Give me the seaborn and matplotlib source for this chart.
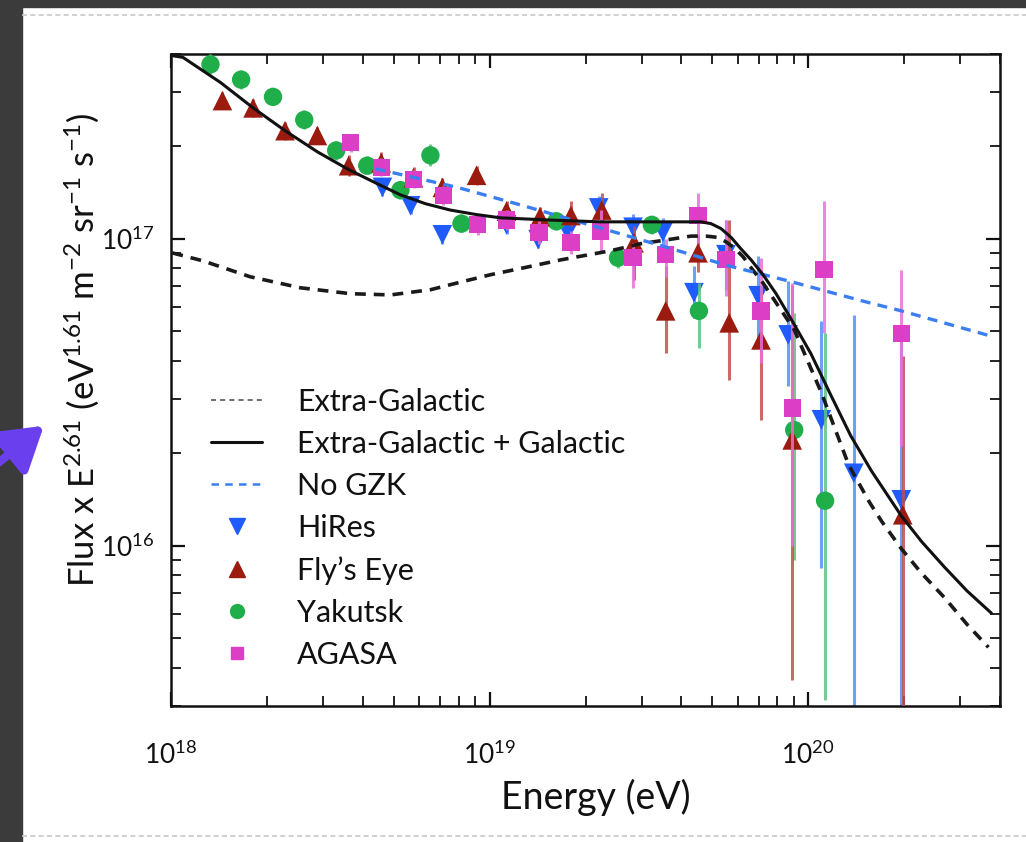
# plot.py
# Espectro de raios cósmicos de altíssima energia (Flux x E^2.61)

import matplotlib
matplotlib.use("Agg")
import matplotlib.pyplot as plt
from matplotlib.lines import Line2D
from matplotlib.patches import Rectangle, FancyArrowPatch
from matplotlib.ticker import LogLocator, LogFormatterMathtext, NullFormatter
import seaborn as sns

# ---- modelos (curvas) ----
eg_gal_E = [1.01e18, 1.09e18, 1.43e18, 1.81e18, 2.28e18, 2.88e18, 3.61e18, 4.39e18,
            5.25e18, 6.30e18, 7.53e18, 9.04e18, 1.08e19, 1.56e19, 2.23e19, 3.21e19,
            4.61e19, 4.95e19, 5.32e19, 5.73e19, 6.15e19, 6.62e19, 7.21e19, 7.93e19,
            8.98e19, 1.02e20, 1.18e20, 1.36e20, 1.58e20, 1.96e20, 2.27e20, 2.68e20,
            3.15e20, 3.76e20]
eg_gal_F = [3.95e17, 3.90e17, 3.23e17, 2.67e17, 2.25e17, 1.92e17, 1.68e17, 1.52e17,
            1.39e17, 1.30e17, 1.24e17, 1.20e17, 1.17e17, 1.15e17, 1.135e17, 1.135e17,
            1.135e17, 1.12e17, 1.08e17, 1.01e17, 9.27e16, 8.53e16, 7.64e16, 6.62e16,
            5.32e16, 4.22e16, 3.08e16, 2.28e16, 1.75e16, 1.25e16, 1.03e16, 8.50e15,
            7.12e15, 6.02e15]

eg_E = [1.01e18, 1.26e18, 1.77e18, 2.55e18, 3.66e18, 4.89e18, 6.52e18, 7.93e18,
        1.01e19, 1.28e19, 1.67e19, 2.40e19, 2.99e19, 3.63e19, 4.29e19, 4.78e19,
        5.21e19, 5.52e19, 5.85e19, 6.25e19, 6.62e19, 7.21e19, 7.82e19, 9.04e19,
        1.10e20, 1.34e20, 1.56e20, 1.70e20, 1.96e20, 2.27e20, 2.68e20, 3.15e20, 3.68e20]
eg_F = [8.99e16, 8.47e16, 7.52e16, 6.92e16, 6.62e16, 6.56e16, 6.82e16, 7.18e16,
        7.64e16, 8.04e16, 8.53e16, 9.14e16, 9.64e16, 9.93e16, 1.02e17, 1.02e17,
        1.01e17, 9.77e16, 9.35e16, 8.73e16, 8.04e16, 7.18e16, 6.32e16, 5.05e16,
        3.15e16, 1.83e16, 1.38e16, 1.20e16, 9.77e15, 8.12e15, 6.76e15, 5.54e15, 4.66e15]

nogzk_E = [4.39e18, 7.93e18, 1.28e19, 2.40e19, 3.63e19, 5.60e19, 8.65e19, 1.47e20,
           1.96e20, 3.71e20]
nogzk_F = [1.69e17, 1.47e17, 1.28e17, 1.06e17, 9.35e16, 8.17e16, 7.29e16, 6.28e16,
           5.82e16, 4.83e16]

# ---- dados experimentais ----
hires_E = [4.61e18, 5.65e18, 7.11e18, 1.13e19, 1.42e19, 1.76e19, 2.20e19, 2.82e19,
           3.50e19, 4.38e19, 5.52e19, 6.96e19, 8.65e19, 1.10e20, 1.39e20, 1.96e20]
hires_F = [1.47e17, 1.28e17, 1.03e17, 1.11e17, 9.93e16, 1.05e17, 1.26e17, 1.09e17,
           1.05e17, 6.67e16, 8.87e16, 6.52e16, 4.86e16, 2.57e16, 1.72e16, 1.41e16]
hires_lo = [1.38e17, 1.20e17, 9.6e16, 1.04e17, 9.3e16, 9.8e16, 1.16e17, 9.9e16,
            9.4e16, 5.52e16, 6.80e16, 4.48e16, 3.31e16, 8.45e15, 2.0e15, 2.0e15]
hires_hi = [1.56e17, 1.36e17, 1.10e17, 1.18e17, 1.06e17, 1.12e17, 1.38e17, 1.20e17,
            1.17e17, 8.17e16, 1.15e17, 8.81e16, 7.29e16, 5.40e16, 5.65e16, 4.93e16]

flyseye_E = [1.45e18, 1.81e18, 2.28e18, 2.88e18, 3.61e18, 4.57e18, 5.77e18, 7.11e18,
             9.10e18, 1.13e19, 1.44e19, 1.80e19, 2.25e19, 2.84e19, 3.57e19, 4.51e19,
             5.65e19, 7.11e19, 8.91e19, 1.98e20]
flyseye_F = [2.82e17, 2.67e17, 2.25e17, 2.17e17, 1.73e17, 1.77e17, 1.58e17, 1.47e17,
             1.61e17, 1.23e17, 1.18e17, 1.19e17, 1.24e17, 9.70e16, 5.82e16, 9.00e16,
             5.32e16, 4.68e16, 2.21e16, 1.26e16]
flyseye_lo = [2.65e17, 2.50e17, 2.10e17, 2.03e17, 1.60e17, 1.65e17, 1.48e17, 1.37e17,
              1.50e17, 1.14e17, 1.10e17, 1.10e17, 1.07e17, 7.35e16, 4.25e16, 7.8e16,
              3.47e16, 2.57e16, 3.64e15, 2.0e15]
flyseye_hi = [3.00e17, 2.85e17, 2.40e17, 2.32e17, 1.87e17, 1.92e17, 1.71e17, 1.58e17,
              1.73e17, 1.33e17, 1.27e17, 1.33e17, 1.41e17, 1.10e17, 8.17e16, 1.03e17,
              1.15e17, 6.67e16, 7.08e16, 4.15e16]

yakutsk_E = [1.33e18, 1.66e18, 2.09e18, 2.62e18, 3.30e18, 4.13e18, 5.25e18, 6.52e18,
             8.16e18, 1.62e19, 2.53e19, 3.23e19, 4.54e19, 9.04e19, 1.13e20]
yakutsk_F = [3.70e17, 3.30e17, 2.90e17, 2.44e17, 1.94e17, 1.73e17, 1.44e17, 1.87e17,
             1.12e17, 1.14e17, 8.67e16, 1.11e17, 5.82e16, 2.38e16, 1.40e16]
yakutsk_lo = [3.45e17, 3.08e17, 2.72e17, 2.28e17, 1.81e17, 1.62e17, 1.35e17, 1.72e17,
              1.05e17, 1.07e17, 8.0e16, 1.04e17, 4.41e16, 8.98e15, 3.13e15]
yakutsk_hi = [4.00e17, 3.55e17, 3.10e17, 2.62e17, 2.08e17, 1.86e17, 1.54e17, 2.04e17,
              1.20e17, 1.22e17, 9.4e16, 1.19e17, 7.18e16, 5.74e16, 4.93e16]

agasa_E = [3.66e18, 4.57e18, 5.77e18, 7.16e18, 9.17e18, 1.13e19, 1.43e19, 1.80e19,
           2.23e19, 2.82e19, 3.57e19, 4.51e19, 5.52e19, 7.11e19, 8.91e19, 1.12e20, 1.96e20]
agasa_F = [2.06e17, 1.71e17, 1.56e17, 1.38e17, 1.11e17, 1.15e17, 1.05e17, 9.70e16,
           1.06e17, 8.67e16, 8.87e16, 1.19e17, 8.54e16, 5.82e16, 2.81e16, 7.92e16, 4.90e16]
agasa_lo = [1.92e17, 1.60e17, 1.46e17, 1.29e17, 1.03e17, 1.07e17, 9.6e16, 8.9e16,
            9.0e16, 6.9e16, 7.5e16, 9.7e16, 6.52e16, 3.93e16, 9.96e15, 4.93e16, 2.11e16]
agasa_hi = [2.20e17, 1.83e17, 1.67e17, 1.48e17, 1.19e17, 1.24e17, 1.14e17, 1.06e17,
            1.24e17, 9.7e16, 1.00e17, 1.41e17, 1.15e17, 8.67e16, 7.18e16, 1.33e17, 7.92e16]

CORES = {
    'hires': '#1f5cff',
    'flyseye': '#9c1b0f',
    'yakutsk': '#1fae4a',
    'agasa': '#dc3fc6',
    'nogzk': '#3a7ef0',
}
CORES_ERRO = {
    'hires': '#5b8bff',
    'flyseye': '#c0504c',
    'yakutsk': '#5cc47f',
    'agasa': '#e771d6',
}

sns.set_theme(style='ticks')
plt.rcParams['font.family'] = ['Lato', 'DejaVu Sans']
plt.rcParams['mathtext.fontset'] = 'custom'
plt.rcParams['mathtext.rm'] = 'Lato'
plt.rcParams['mathtext.it'] = 'Lato:italic'
plt.rcParams['mathtext.bf'] = 'Lato:bold'

fig = plt.figure(figsize=(10.26, 8.42), dpi=100)
fig.patch.set_facecolor('white')

# moldura escura do print
fig.patches.append(Rectangle((0, 0), 22 / 1026, 1, transform=fig.transFigure,
                             color='#3b3b3b', zorder=0))
fig.patches.append(Rectangle((0, 1 - 7 / 842), 1, 7 / 842, transform=fig.transFigure,
                             color='#3b3b3b', zorder=0))
for yy in (1 - 15 / 842, 1 - 836 / 842):
    fig.add_artist(Line2D([22 / 1026, 1], [yy, yy], transform=fig.transFigure,
                          color='#c8c8c8', lw=1.2, ls=(0, (3, 2))))

ax = fig.add_axes([171 / 1026, 1 - 706 / 842, (1000 - 171) / 1026, (706 - 54) / 842])

# barras de erro + pontos
series = [
    ('hires', hires_E, hires_F, hires_lo, hires_hi, 'v', 200, 3),
    ('yakutsk', yakutsk_E, yakutsk_F, yakutsk_lo, yakutsk_hi, 'o', 175, 4),
    ('flyseye', flyseye_E, flyseye_F, flyseye_lo, flyseye_hi, '^', 200, 5),
    ('agasa', agasa_E, agasa_F, agasa_lo, agasa_hi, 's', 155, 6),
]
for nome, E, F, lo, hi, mk, sz, z in series:
    ax.vlines(E, lo, hi, color=CORES_ERRO[nome], lw=2.2, alpha=0.85, zorder=z - 0.5)
    sns.scatterplot(x=E, y=F, marker=mk, s=sz, color=CORES[nome], edgecolor='none',
                    linewidth=0, ax=ax, zorder=z, legend=False)

# curvas dos modelos
sns.lineplot(x=eg_E, y=eg_F, sort=False, estimator=None, color='#1a1a1a', lw=2.6,
             ls=(0, (3, 2.2)), ax=ax, zorder=7)
sns.lineplot(x=eg_gal_E, y=eg_gal_F, sort=False, estimator=None, color='#111111',
             lw=2.2, ax=ax, zorder=8)
sns.lineplot(x=nogzk_E, y=nogzk_F, sort=False, estimator=None, color=CORES['nogzk'],
             lw=2.4, ls=(0, (3, 2.2)), ax=ax, zorder=7)

ax.set_xscale('log')
ax.set_yscale('log')
ax.set_xlim(1e18, 4e20)
ax.set_ylim(3e15, 4e17)

for s in ax.spines.values():
    s.set_color('#111111')
    s.set_linewidth(1.8)

ax.xaxis.set_major_locator(LogLocator(base=10, numticks=10))
ax.xaxis.set_minor_locator(LogLocator(base=10, subs=range(2, 10), numticks=20))
ax.yaxis.set_major_locator(LogLocator(base=10, numticks=10))
ax.yaxis.set_minor_locator(LogLocator(base=10, subs=range(2, 10), numticks=20))
ax.xaxis.set_major_formatter(LogFormatterMathtext())
ax.yaxis.set_major_formatter(LogFormatterMathtext())
ax.xaxis.set_minor_formatter(NullFormatter())
ax.yaxis.set_minor_formatter(NullFormatter())

ax.tick_params(which='both', direction='in', top=True, right=True, color='#111111')
ax.tick_params(which='major', length=10, width=1.6)
ax.tick_params(which='minor', length=7, width=1.3)
ax.tick_params(axis='x', which='major', labelsize=19, pad=25, colors='#111111')
ax.tick_params(axis='y', which='major', labelsize=19, pad=12, colors='#111111')

ax.set_xlabel('Energy (eV)', fontsize=27, color='#111111')
ax.xaxis.label.set_va('center')
ax.xaxis.set_label_coords(0.513, -0.14)
ax.set_ylabel('Flux x E$^{2.61}$ (eV$^{1.61}$ m$^{-2}$ sr$^{-1}$ s$^{-1}$)',
              fontsize=25, color='#111111')
ax.yaxis.label.set_va('center')
ax.yaxis.set_label_coords(-0.107, 0.546)

# legenda
handles = [
    Line2D([], [], color='#555555', lw=1.2, ls=(0, (3, 2.5))),
    Line2D([], [], color='#111111', lw=2.2),
    Line2D([], [], color=CORES['nogzk'], lw=1.8, ls=(0, (3, 2.5))),
    Line2D([], [], color=CORES['hires'], marker='v', ls='none', ms=11),
    Line2D([], [], color=CORES['flyseye'], marker='^', ls='none', ms=11),
    Line2D([], [], color=CORES['yakutsk'], marker='o', ls='none', ms=10),
    Line2D([], [], color=CORES['agasa'], marker='s', ls='none', ms=9),
]
labels = ['Extra-Galactic', 'Extra-Galactic + Galactic', 'No GZK', 'HiRes',
          "Fly’s Eye", 'Yakutsk', 'AGASA']
leg = ax.legend(handles, labels, loc='upper left', bbox_to_anchor=(0.034, 0.507),
                frameon=False, fontsize=22, handlelength=1.65, handletextpad=1.15,
                labelspacing=0.46, borderaxespad=0)
for t in leg.get_texts():
    t.set_color('#111111')

# seta roxa do print
fig.add_artist(FancyArrowPatch((-8 / 1026, 1 - 468 / 842), (46 / 1026, 1 - 424 / 842),
                               transform=fig.transFigure, arrowstyle='-|>,head_length=1.6,head_width=1.0',
                               mutation_scale=16, color='#6a40ee', lw=6))

plt.savefig('out.png', dpi=100)
